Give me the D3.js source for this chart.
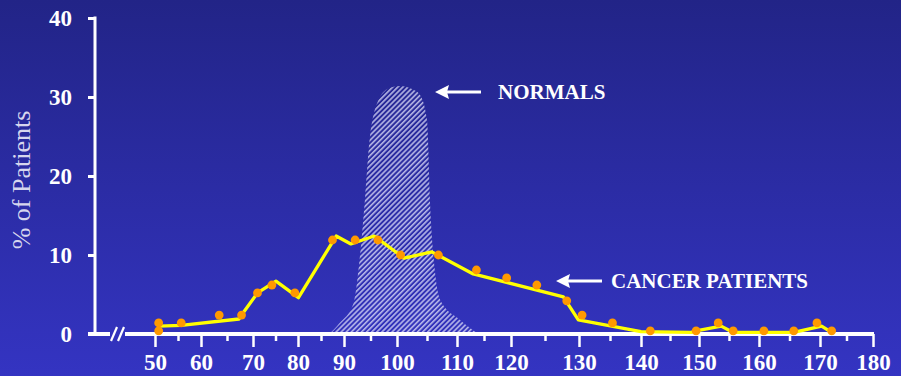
<!DOCTYPE html>
<html>
<head>
<meta charset="utf-8">
<script src="https://cdn.jsdelivr.net/npm/d3@7"></script>
<style>
  html, body { margin: 0; padding: 0; background: #2b2ca8; }
  svg { display: block; }
  text { font-family: "Liberation Serif", "Times New Roman", serif; }
</style>
</head>
<body>
<script>
// data
const xTicks = [50, 60, 70, 80, 90, 100, 110, 120, 130, 140, 150, 160, 170, 180];
const xTickPos = [155, 201, 253, 298, 344, 397, 457, 511, 579, 641, 699, 759, 820, 873]; // the printed axis is uneven
const yTicks = [0, 10, 20, 30, 40];

// cancer patients: dots
const dotX = [50.8, 50.8, 55.7, 63.5, 67.8, 71, 74.2, 79.3, 87.5, 92.1, 96.4, 100.6, 106.9, 113.6, 119.2, 123.8, 128.2, 130.5, 135.4, 141.6, 149.5, 153.2, 155.7, 160.8, 165.7, 169.5, 172.2];
const dotY = [1.4, 0.4, 1.4, 2.4, 2.4, 5.2, 6.2, 5.2, 11.9, 11.9, 11.9, 10.0, 10.0, 8.1, 7.1, 6.2, 4.2, 2.4, 1.4, 0.4, 0.4, 1.4, 0.4, 0.4, 0.4, 1.4, 0.4];

// cancer patients: yellow line
const lineX = [50.8, 55.7, 67.3, 67.8, 71, 75.1, 80.1, 88.3, 91.3, 95.7, 101.2, 105.8, 113, 127.7, 129.9, 140, 148.7, 149.5, 153.7, 155.7, 165.7, 170.3, 172.2];
const lineY = [1.0, 1.1, 1.9, 2.4, 5.2, 6.7, 4.6, 12.4, 11.4, 12.4, 9.6, 10.4, 7.6, 4.7, 1.8, 0.3, 0.2, 0.4, 1.0, 0.2, 0.2, 1.0, 0.2];

// normals: hatched curve
const normX = [86.8, 89, 91.8, 93, 94, 94.9, 96.8, 98.5, 100.5, 102.5, 103.8, 105, 105.5, 106.3, 107.2, 110.5, 114];
const normY = [0, 1.35, 3.9, 9.8, 17.4, 25, 30, 31.1, 31.4, 31.0, 30.3, 27.1, 16.6, 8.1, 4.3, 1.8, 0];

const W = 901, H = 376;
const axisX = 95, axisY = 334;

const svg = d3.select("body").append("svg")
    .attr("width", W)
    .attr("height", H);

const defs = svg.append("defs");
const grad = defs.append("linearGradient")
    .attr("id", "bg")
    .attr("x1", 0).attr("y1", 0).attr("x2", 0).attr("y2", 1);
grad.append("stop").attr("offset", "0%").attr("stop-color", "#222487");
grad.append("stop").attr("offset", "100%").attr("stop-color", "#3434c2");

const hatch = defs.append("pattern")
    .attr("id", "hatch")
    .attr("patternUnits", "userSpaceOnUse")
    .attr("width", 3.6)
    .attr("height", 3.6)
    .attr("patternTransform", "rotate(45)");
hatch.append("rect")
    .attr("width", 1.6).attr("height", 3.6)
    .attr("fill", "#d8d8f6")
    .attr("fill-opacity", 0.8);

svg.append("rect")
    .attr("width", W).attr("height", H)
    .attr("fill", "url(#bg)");

const x = d3.scaleLinear().domain(xTicks).range(xTickPos);
const y = d3.scaleLinear().domain([0, 40]).range([axisY, 18]);

// normals area
const area = d3.area()
    .x(d => x(d[0]))
    .y0(y(0))
    .y1(d => y(d[1]))
    .curve(d3.curveMonotoneX);
svg.append("path")
    .datum(normX.map((v, i) => [v, normY[i]]))
    .attr("d", area)
    .attr("fill", "url(#hatch)");

// x axis
const minorTicks = xTicks.slice(0, -1).map(v => v + 5);
const gxMinor = svg.append("g")
    .attr("transform", `translate(0,${axisY})`)
    .call(d3.axisBottom(x).tickValues(minorTicks).tickSize(7).tickFormat(""));
const gx = svg.append("g")
    .attr("transform", `translate(0,${axisY})`)
    .call(d3.axisBottom(x).tickValues(xTicks).tickSize(13).tickFormat(d3.format("d")));
[gx, gxMinor].forEach(g => {
    g.select(".domain").remove();
    g.selectAll("line").attr("stroke", "#fff").attr("stroke-width", 2.5);
});
gx.selectAll("text")
    .attr("y", 36).attr("dy", 0)
    .attr("fill", "#fff")
    .attr("font-size", 23)
    .attr("font-weight", "bold")
    .attr("font-family", "Liberation Serif, Times New Roman, serif");

// axis line with break
svg.append("line")
    .attr("x1", 88).attr("x2", 110)
    .attr("y1", axisY).attr("y2", axisY)
    .attr("stroke", "#fff").attr("stroke-width", 4);
svg.append("line")
    .attr("x1", 125).attr("x2", x(180) + 1)
    .attr("y1", axisY).attr("y2", axisY)
    .attr("stroke", "#fff").attr("stroke-width", 4);
[0, 7].forEach(o => {
    svg.append("line")
        .attr("x1", 111 + o).attr("y1", 341)
        .attr("x2", 117 + o).attr("y2", 327)
        .attr("stroke", "#fff").attr("stroke-width", 2.2);
});

// y axis
const gy = svg.append("g")
    .attr("transform", `translate(${axisX},0)`)
    .call(d3.axisLeft(y).tickValues(yTicks).tickSize(7).tickPadding(16));
gy.select(".domain").remove();
gy.selectAll("line").attr("stroke", "#fff").attr("stroke-width", 3);
gy.selectAll("text")
    .attr("fill", "#fff")
    .attr("font-size", 23)
    .attr("font-weight", "bold")
    .attr("font-family", "Liberation Serif, Times New Roman, serif");
svg.append("line")
    .attr("x1", axisX).attr("x2", axisX)
    .attr("y1", y(40) - 1.5).attr("y2", axisY)
    .attr("stroke", "#fff").attr("stroke-width", 3);

svg.append("text")
    .attr("transform", "translate(30,180) rotate(-90)")
    .attr("text-anchor", "middle")
    .attr("fill", "#d6d6ee")
    .attr("font-size", 26)
    .text("% of Patients");

// cancer line + dots
const line = d3.line()
    .x(d => x(d[0]))
    .y(d => y(d[1]));
svg.append("path")
    .datum(lineX.map((v, i) => [v, lineY[i]]))
    .attr("d", line)
    .attr("fill", "none")
    .attr("stroke", "#ffff00")
    .attr("stroke-width", 3.3)
    .attr("stroke-linejoin", "round");

svg.selectAll(".dot")
    .data(dotX.map((v, i) => [v, dotY[i]]))
    .enter()
    .append("circle")
    .attr("class", "dot")
    .attr("cx", d => x(d[0]))
    .attr("cy", d => y(d[1]))
    .attr("r", 4.4)
    .attr("fill", "#ff9900");

// annotations
function arrow(tipX, tipY, tailX, textX, label) {
    const g = svg.append("g");
    g.append("line")
        .attr("x1", tipX + 10).attr("x2", tailX)
        .attr("y1", tipY).attr("y2", tipY)
        .attr("stroke", "#fff").attr("stroke-width", 3);
    g.append("path")
        .attr("d", `M${tipX},${tipY} L${tipX + 14},${tipY - 7} L${tipX + 12},${tipY} L${tipX + 14},${tipY + 7} Z`)
        .attr("fill", "#fff");
    g.append("text")
        .attr("x", textX)
        .attr("y", tipY + 7)
        .attr("fill", "#fff")
        .attr("font-size", 21)
        .attr("font-weight", "bold")
        .text(label);
}
arrow(435, 92, 481, 498, "NORMALS");
arrow(556, 281, 602, 611, "CANCER PATIENTS");
</script>
</body>
</html>
